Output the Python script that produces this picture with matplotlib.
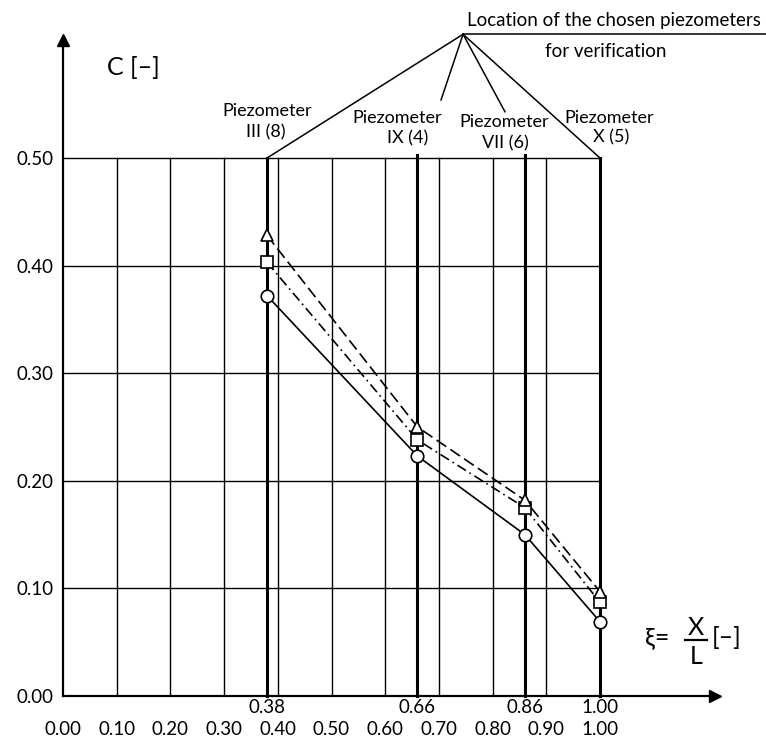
import matplotlib.pyplot as plt
import numpy as np

plt.rcParams['font.family'] = ['Lato', 'DejaVu Sans']

# piezometer locations xi = X/L and concentrations C
xi = [0.38, 0.66, 0.86, 1.00]
c_circle = [0.372, 0.223, 0.150, 0.069]
c_square = [0.403, 0.238, 0.175, 0.087]
c_triangle = [0.428, 0.250, 0.182, 0.097]

grid_x = np.arange(0.1, 1.01, 0.1)
grid_y = np.arange(0.1, 0.51, 0.1)
xtick_labels = ['0.00', '0.10', '0.20', '0.30', '0.40', '0.50',
                '0.60', '0.70', '0.80', '0.90', '1.00']
ytick_labels = ['0.00', '0.10', '0.20', '0.30', '0.40', '0.50']
piezo_names = ['III (8)', 'IX (4)', 'VII (6)', 'X (5)']

W, H = 766, 742
fig = plt.figure(figsize=(W / 100, H / 100), dpi=100)
# axis origin at pixel (63, 696), arrow tips at x=715, y=40
ax = fig.add_axes([63 / W, (H - 696) / H, (715 - 63) / W, (696 - 40) / H])
ax.set_xlim(0, (715 - 63) / 537)
ax.set_ylim(0, (696 - 40) / 1076)

for s in ['top', 'right']:
    ax.spines[s].set_visible(False)
for s in ['left', 'bottom']:
    ax.spines[s].set_linewidth(1.6)
ax.plot(1, 0, '>k', ms=9, transform=ax.get_yaxis_transform(), clip_on=False)
ax.plot(0, 1, '^k', ms=9, transform=ax.get_xaxis_transform(), clip_on=False)

# grid
for gx in grid_x:
    ax.plot([gx, gx], [0, 0.5], color='black', lw=1.0, zorder=1)
for gy in grid_y:
    ax.plot([0, 1.0], [gy, gy], color='black', lw=1.0, zorder=1)

# piezometer lines
for px in xi:
    top = 0.5 if px in (0.38, 1.0) else 0.503
    ax.plot([px, px], [0, top], color='black', lw=2.2, zorder=2, clip_on=False)

# ticks
ax.set_yticks(np.arange(0, 0.51, 0.1))
ax.set_yticklabels(ytick_labels, fontsize=13.5)
ax.set_xticks(np.arange(0, 1.01, 0.1))
ax.set_xticklabels(xtick_labels, fontsize=13.5)
ax.xaxis.remove_overlapping_locs = False
ax.set_xticks(xi, minor=True)
ax.set_xticklabels(['%.2f' % v for v in xi], minor=True, fontsize=13.5)
ax.tick_params(axis='x', which='major', length=0, pad=18)
ax.tick_params(axis='x', which='minor', length=0, pad=2)
ax.tick_params(axis='y', length=0, pad=7)

# data series
ax.plot(xi, c_circle, '-', color='black', lw=1.2, marker='o', ms=9,
        mfc='white', mec='black', mew=1.2, zorder=5)
ax.plot(xi, c_square, color='black', lw=1.2, dashes=(6, 2.5, 1, 2.5), marker='s', ms=8,
        mfc='white', mec='black', mew=1.2, zorder=5)
ax.plot(xi, c_triangle, color='black', lw=1.2, dashes=(7, 3), marker='^', ms=9,
        mfc='white', mec='black', mew=1.2, zorder=5)

# labels
ax.text(0.082, 0.584, 'C [–]', fontsize=18, ha='left', va='center')
ax.text(1.106, 0.054, 'ξ=', fontsize=18, ha='center', va='center')
ax.text(1.178, 0.064, 'X', fontsize=18, ha='center', va='center')
ax.plot([1.158, 1.199], [0.052, 0.052], color='black', lw=1.6, clip_on=False)
ax.text(1.179, 0.037, 'L', fontsize=18, ha='center', va='center')
ax.text(1.236, 0.054, '[–]', fontsize=18, ha='center', va='center')

# piezometer captions
cap_pos = [(0.380, 0.544, 0.378, 0.524), (0.622, 0.537, 0.641, 0.518),
           (0.821, 0.533, 0.823, 0.514), (1.017, 0.537, 1.020, 0.519)]
for name, (x1, y1, x2, y2) in zip(piezo_names, cap_pos):
    ax.text(x1, y1, 'Piezometer', fontsize=13, ha='center', va='center')
    ax.text(x2, y2, name, fontsize=13, ha='center', va='center')

# top annotation
hub = (0.745, 0.615)
ax.plot([hub[0], 1.309], [hub[1], hub[1]], color='black', lw=1.1, clip_on=False)
for tx, ty in [(0.38, 0.5), (0.704, 0.554), (0.823, 0.543), (1.0, 0.5)]:
    ax.plot([hub[0], tx], [hub[1], ty], color='black', lw=1.1, clip_on=False)
ax.text(1.026, 0.628, 'Location of the chosen piezometers', fontsize=13.5,
        ha='center', va='center')
ax.text(1.011, 0.599, 'for verification', fontsize=13.5, ha='center', va='center')

fig.savefig('out.png', dpi=100)
